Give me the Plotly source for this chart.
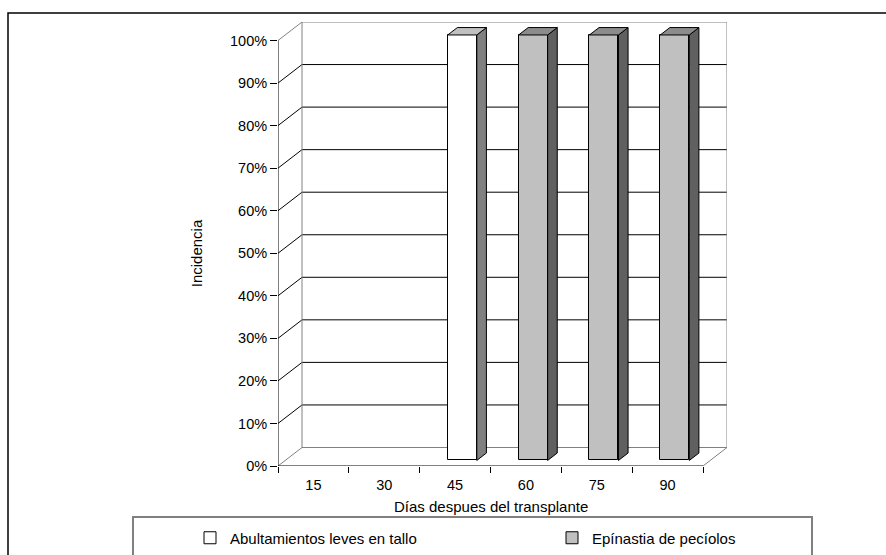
import plotly.graph_objects as go

# ---- data -------------------------------------------------------------
categories = ["15", "30", "45", "60", "75", "90"]
series_names = ["Abultamientos leves en tallo", "Epínastia de pecíolos"]
abultamientos = [0, 0, 100, 0, 0, 0]
epinastia = [0, 0, 0, 100, 100, 100]
y_ticks = [0, 10, 20, 30, 40, 50, 60, 70, 80, 90, 100]

# ---- geometry of the pseudo-3D frame ------------------------------------
W, H = 886, 555
L, R, T, B = 278, 727, 22, 466          # plot area in pixels
N = len(categories)
DX = N * (R - L - 425) / 425            # depth shift along x (data units)
DY = 4.35                               # depth shift along y (data units)
F0, F1 = 0.3, 0.7                       # bar depth span (fraction of wall depth)
BW = 0.41                               # bar width (category units)

FONT = "Liberation Sans, Arial, sans-serif"
GRID = "#000000"
EDGE = "#808080"

styles = [
    dict(front="#ffffff", top="#c0c0c0", side="#808080"),
    dict(front="#c0c0c0", top="#8c8c8c", side="#606060"),
]


def px_x(p):
    return (p - L) / (R - L)


def px_y(p):
    return (B - p) / (B - T)


fig = go.Figure()

# ---- walls, floor and gridlines ----------------------------------------
shapes = []


def seg(x0, y0, x1, y1, color, width=1, xref="x", yref="y"):
    shapes.append(dict(type="line", x0=x0, y0=y0, x1=x1, y1=y1,
                       xref=xref, yref=yref, layer="below",
                       line=dict(color=color, width=width)))


for v in y_ticks:
    c = EDGE if v in (y_ticks[0], y_ticks[-1]) else GRID
    seg(0, v, DX, v + DY, c)                 # side wall
    seg(DX, v + DY, N + DX, v + DY, c)       # back wall
seg(DX, DY, DX, y_ticks[-1] + DY, EDGE)
seg(N + DX, DY, N + DX, y_ticks[-1] + DY, EDGE)
seg(N, 0, N + DX, DY, EDGE)                  # floor right edge
# front axis lines
seg(0, 0, N, 0, "#000000")
seg(0, 0, 0, y_ticks[-1], "#000000")

# ---- bars ---------------------------------------------------------------
for s, (name, vals) in enumerate(zip(series_names, [abultamientos, epinastia])):
    st = styles[s]
    xs, ys = [], []
    for i, v in enumerate(vals):
        if v <= 0:
            continue
        c = i + 0.5
        xl, xr = c - BW / 2, c + BW / 2
        # side face
        fig.add_trace(go.Scatter(
            x=[xr + F0 * DX, xr + F1 * DX, xr + F1 * DX, xr + F0 * DX, xr + F0 * DX],
            y=[F0 * DY, F1 * DY, v + F1 * DY, v + F0 * DY, F0 * DY],
            mode="lines", fill="toself", fillcolor=st["side"],
            line=dict(color="#000000", width=1), showlegend=False, hoverinfo="skip"))
        # top face
        fig.add_trace(go.Scatter(
            x=[xl + F0 * DX, xr + F0 * DX, xr + F1 * DX, xl + F1 * DX, xl + F0 * DX],
            y=[v + F0 * DY, v + F0 * DY, v + F1 * DY, v + F1 * DY, v + F0 * DY],
            mode="lines", fill="toself", fillcolor=st["top"],
            line=dict(color="#000000", width=1), showlegend=False, hoverinfo="skip"))
        xs.append(c + F0 * DX)
        ys.append(v)
    # front faces
    fig.add_trace(go.Bar(
        x=xs, y=ys, base=[F0 * DY] * len(xs), width=BW, name=name,
        marker=dict(color=st["front"], line=dict(color="#000000", width=1)),
        legend="legend" if s == 0 else "legend2"))

# ---- outer frame and legend box ----------------------------------------
shapes.append(dict(type="rect", xref="paper", yref="paper",
                   x0=px_x(8), x1=px_x(900), y0=px_y(600), y1=px_y(13),
                   line=dict(color="#000000", width=1.5), layer="below"))
shapes.append(dict(type="rect", xref="paper", yref="paper",
                   x0=px_x(133), x1=px_x(812), y0=px_y(600), y1=px_y(517),
                   line=dict(color="#808080", width=2), layer="below"))

annotations = [
    dict(text="Incidencia", xref="paper", yref="y", x=px_x(196), y=50,
         xanchor="center", yanchor="middle",
         textangle=-90, showarrow=False, font=dict(size=15, color="#000000")),
    dict(text="Días despues del transplante", xref="x", yref="paper",
         x=N / 2, y=px_y(506), xanchor="center", yanchor="middle",
         showarrow=False, font=dict(size=15, color="#000000")),
]

fig.update_layout(
    width=W, height=H,
    margin=dict(l=L, r=W - R, t=T, b=H - B, autoexpand=False),
    paper_bgcolor="#ffffff", plot_bgcolor="#ffffff",
    font=dict(family=FONT, size=15, color="#000000"),
    barmode="overlay", bargap=0,
    shapes=shapes, annotations=annotations,
    xaxis=dict(range=[0, N + DX], showgrid=False, zeroline=False, showline=False,
               tickmode="array", tickvals=[i + 0.5 for i in range(N)],
               ticktext=categories, ticks="outside", ticklen=6,
               tickcolor="rgba(0,0,0,0)", tickfont=dict(size=14.5),
               minor=dict(tickmode="array", tickvals=list(range(N + 1)),
                          ticks="outside", ticklen=6, tickcolor="#000000",
                          showgrid=False)),
    yaxis=dict(range=[0, y_ticks[-1] + DY], showgrid=False, zeroline=False,
               showline=False, tickmode="array", tickvals=y_ticks,
               ticktext=[f"{v}%" for v in y_ticks], ticks="outside", ticklen=7,
               tickcolor="#000000", tickfont=dict(size=14.5)),
    legend=dict(orientation="h", x=px_x(190), y=px_y(538), xanchor="left",
                yanchor="middle", bgcolor="rgba(0,0,0,0)", borderwidth=0,
                font=dict(size=15)),
    legend2=dict(orientation="h", x=px_x(552), y=px_y(538), xanchor="left",
                 yanchor="middle", bgcolor="rgba(0,0,0,0)", borderwidth=0,
                 font=dict(size=15)),
)

fig.write_html("out.html")
